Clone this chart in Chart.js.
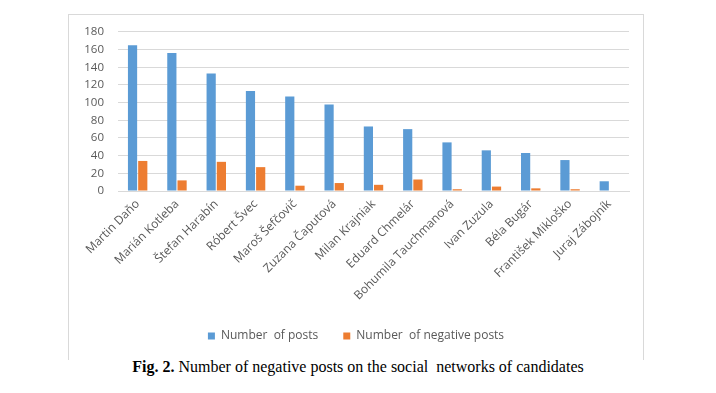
<!DOCTYPE html>
<html>
<head>
<meta charset="utf-8">
<script src="https://cdn.jsdelivr.net/npm/chart.js@4/dist/chart.umd.min.js"></script>
<style>
  html, body { margin: 0; padding: 0; background: #fff; }
  body { width: 716px; height: 393px; position: relative; overflow: hidden; }
  #frame {
    position: absolute; left: 68px; top: 14px; width: 574px; height: 345px;
    border: 1px solid #d9d9d9; border-bottom: none;
  }
  #postsChart { position: absolute; left: 0; top: -4px; }
  #caption {
    position: absolute; left: 0; width: 716px; top: 358px; text-align: center;
    font-family: "Liberation Serif", "DejaVu Serif", serif; font-size: 16px; color: #000;
  }
</style>
</head>
<body>
<div id="frame"><canvas id="postsChart" width="574" height="345"></canvas></div>
<div id="caption"><b>Fig. 2.</b> Number of negative posts on the social&nbsp; networks of candidates</div>
<script>
/* ───────────────────────────── data */
const candidates = [
  'Martin Daňo', 'Marián Kotleba', 'Štefan Harabín', 'Róbert Švec', 'Maroš Šefčovič',
  'Zuzana Čaputová', 'Milan Krajniak', 'Eduard Chmelár', 'Bohumila Tauchmanová',
  'Ivan Zuzula', 'Béla Bugár', 'František Mikloško', 'Juraj Zábojník'
];
const postCounts     = [165, 156, 133, 113, 107, 98, 73, 70, 55, 46, 43, 35, 11];
const negativeCounts = [34, 12, 33, 27, 6, 9, 7, 13, 2, 5, 3, 2, 0];
const yTicks         = [0, 20, 40, 60, 80, 100, 120, 140, 160, 180];

const BLUE   = '#5b9bd5';
const ORANGE = '#ed7d31';
const GRID   = '#d9d9d9';
const TEXT   = '#595959';

/* ───────────────────────────── chart */
const ctx = document.getElementById('postsChart').getContext('2d');
new Chart(ctx, {
  type: 'bar',
  data: {
    labels: candidates,
    datasets: [
      { label: 'Number  of posts', data: postCounts, backgroundColor: BLUE,
        categoryPercentage: 0.52, barPercentage: 0.9 },
      { label: 'Number  of negative posts', data: negativeCounts, backgroundColor: ORANGE,
        categoryPercentage: 0.52, barPercentage: 0.9 }
    ]
  },
  options: {
    responsive: false,
    animation: false,
    layout: { padding: { top: 13, right: 14, left: 14, bottom: 4 } },
    plugins: {
      tooltip: { enabled: false },
      legend: {
        position: 'bottom',
        labels: {
          boxWidth: 7, boxHeight: 7, padding: 25, color: TEXT,
          font: { family: 'Open Sans', size: 12 }
        }
      }
    },
    scales: {
      x: {
        grid: { display: false, drawTicks: false },
        border: { color: GRID },
        ticks: {
          color: TEXT, minRotation: 45, maxRotation: 45, padding: 6, autoSkip: false,
          font: { family: 'Open Sans', size: 12 }
        },
        afterFit: s => { s.height = 114; }
      },
      y: {
        min: 0, max: 180,
        afterBuildTicks: s => { s.ticks = yTicks.map(v => ({ value: v })); },
        grid: { color: GRID, drawTicks: false },
        border: { display: false },
        ticks: {
          color: TEXT, padding: 14, autoSkip: false,
          font: { family: 'Open Sans', size: 11.5 }
        },
        afterFit: s => { s.width = 35; }
      }
    }
  }
});
</script>
</body>
</html>
